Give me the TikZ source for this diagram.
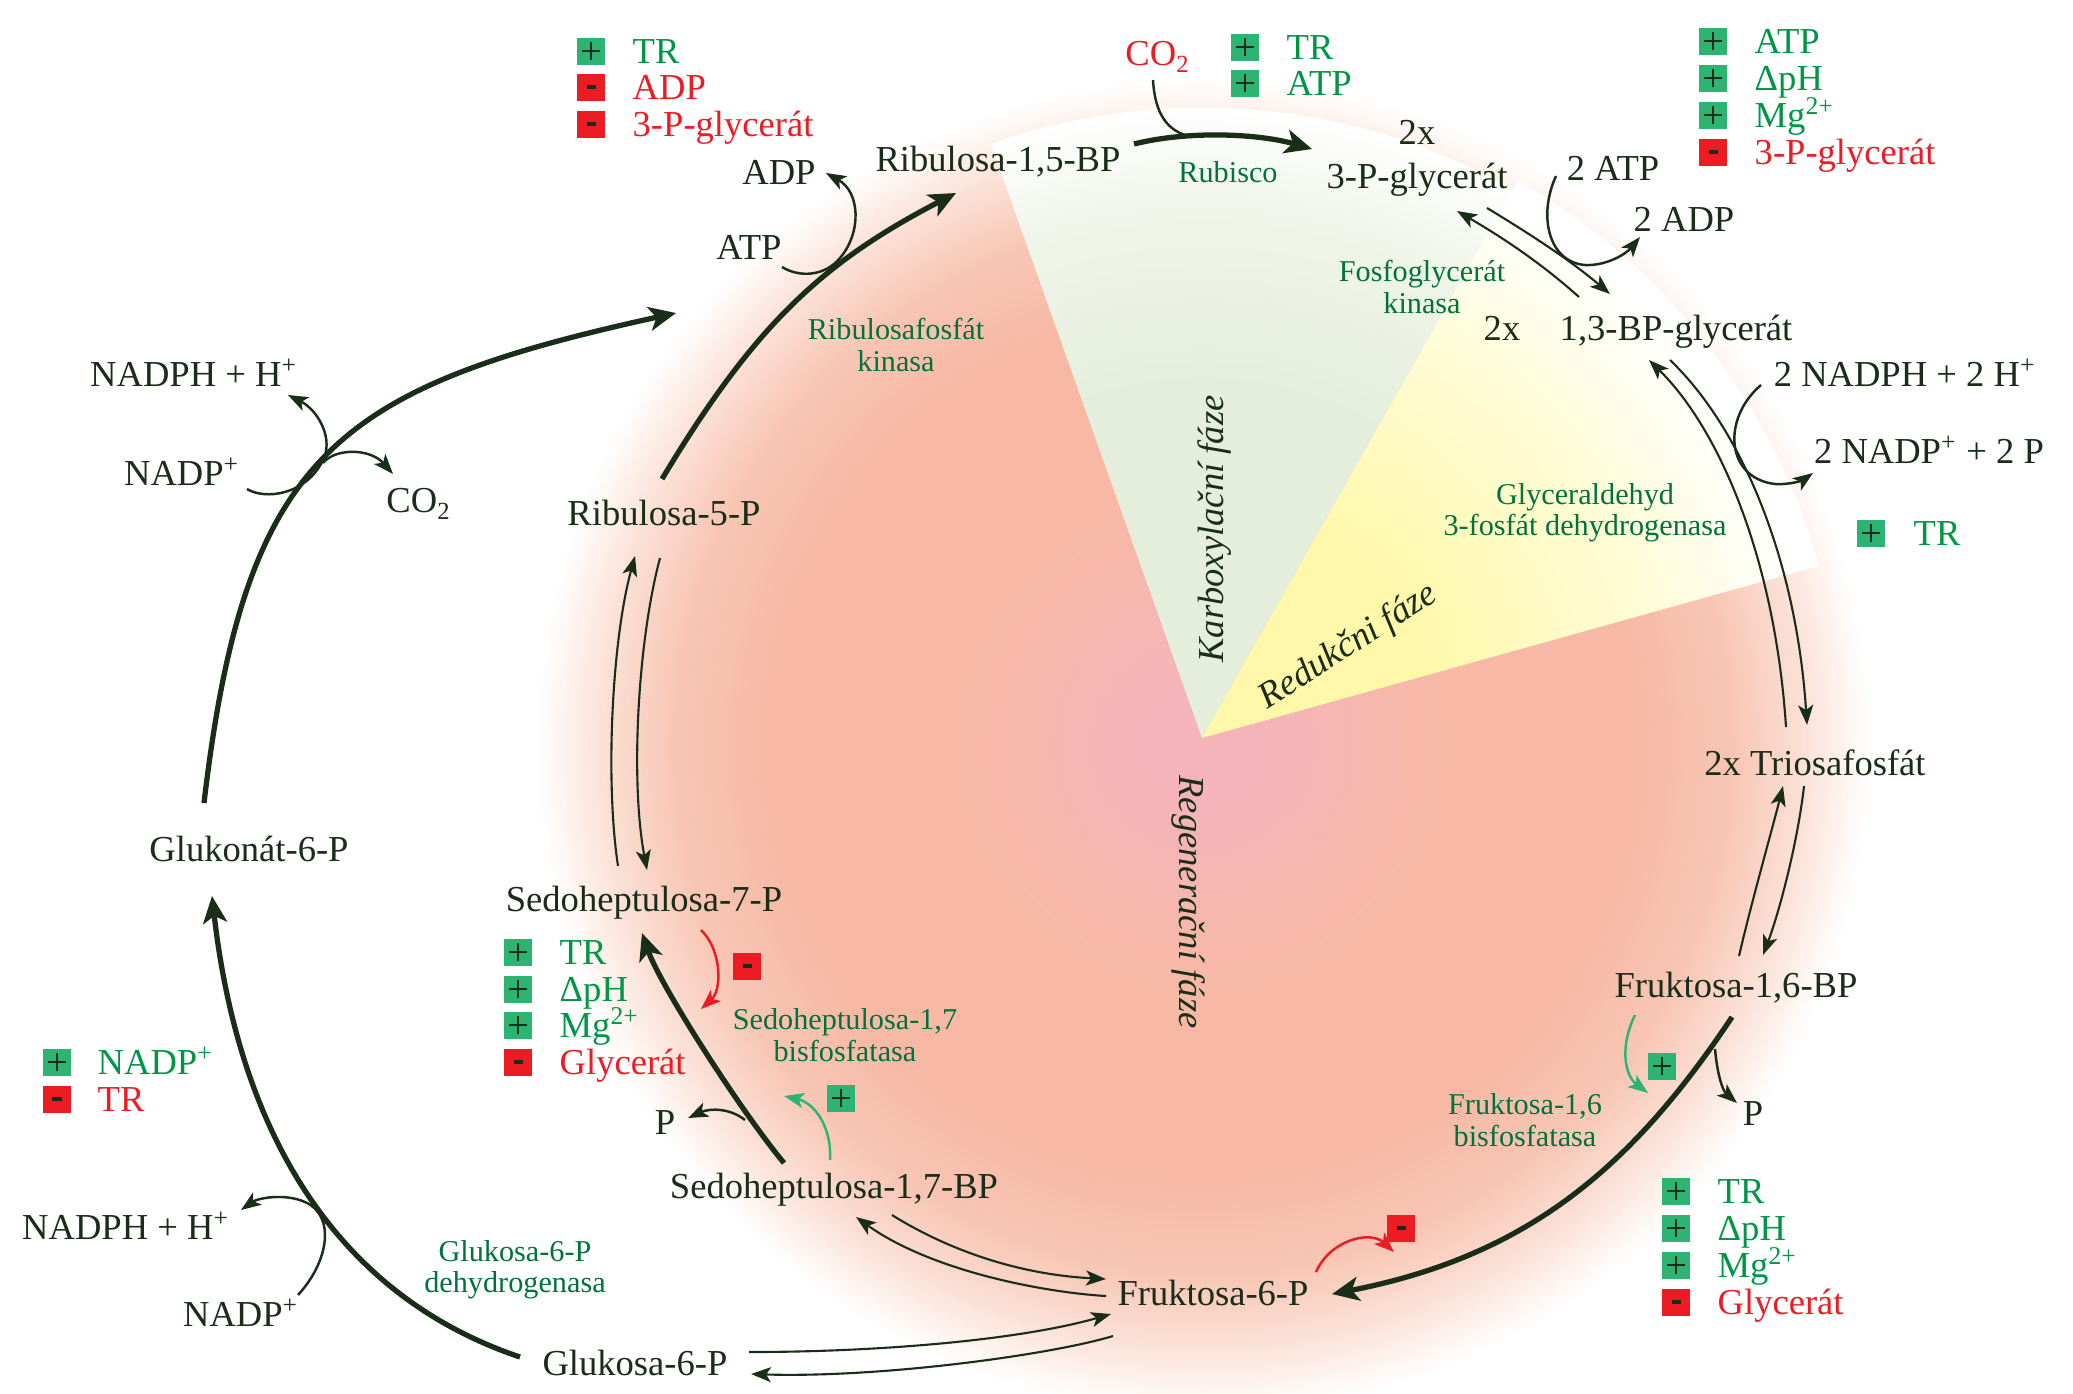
\documentclass[tikz,border=0pt]{standalone}
\usepackage{fontspec}
\setmainfont{Liberation Serif}
\usetikzlibrary{arrows.meta}
\definecolor{dark}{RGB}{25,45,25}
\definecolor{enzgreen}{RGB}{0,115,60}
\definecolor{reggreen}{RGB}{0,150,70}
\definecolor{boxgreen}{RGB}{45,180,115}
\definecolor{boxred}{RGB}{237,28,36}
\definecolor{cpink}{RGB}{245,180,186}
\definecolor{csalmon}{RGB}{247,185,166}
\definecolor{csalmonb}{RGB}{248,198,181}
\definecolor{clight}{RGB}{251,224,213}
\definecolor{cgreen}{RGB}{229,238,219}
\definecolor{cgreenb}{RGB}{240,245,234}
\definecolor{cyellow}{RGB}{255,248,170}
\definecolor{cyellowb}{RGB}{255,252,215}
\pgfdeclareradialshading{discshade}{\pgfpoint{0bp}{0bp}}{color(0bp)=(cpink); color(2bp)=(cpink); color(9bp)=(csalmon); color(16bp)=(csalmon); color(19.5bp)=(csalmonb); color(22bp)=(clight); color(24.5bp)=(white); color(50bp)=(white)}
\pgfdeclareradialshading{greenshade}{\pgfpoint{0bp}{0bp}}{color(0bp)=(cgreen); color(14bp)=(cgreen); color(21bp)=(cgreenb); color(25bp)=(white); color(50bp)=(white)}
\pgfdeclareradialshading{yellowshade}{\pgfpoint{0bp}{0bp}}{color(0bp)=(cyellow); color(9bp)=(cyellow); color(18bp)=(cyellowb); color(24bp)=(white); color(50bp)=(white)}
\newcommand\metfont{\fontsize{10.4}{12.5}\selectfont}
\newcommand\enzfont{\fontsize{8.6}{8.9}\selectfont}
\tikzset{
  met/.style={font=\metfont, text=dark, inner sep=0pt, text height=6.9pt, text depth=0pt},
  enz/.style={font=\enzfont, text=enzgreen, inner sep=0pt, align=center},
  regt/.style={font=\metfont, inner sep=0pt, anchor=west, text height=6.9pt, text depth=0pt},
  phase/.style={font=\metfont\itshape, text=dark, inner sep=0pt, text height=6.9pt, text depth=0pt},
  pbox/.style={fill=boxgreen, minimum width=0.28cm, minimum height=0.27cm, inner sep=0pt,
    path picture={\draw[dark, line width=0.45pt]
      ([xshift=-0.09cm]path picture bounding box.center) -- ([xshift=0.09cm]path picture bounding box.center)
      ([yshift=-0.09cm]path picture bounding box.center) -- ([yshift=0.09cm]path picture bounding box.center);}},
  mbox/.style={fill=boxred, minimum width=0.28cm, minimum height=0.27cm, inner sep=0pt,
    path picture={\draw[dark, line width=1.1pt]
      ([xshift=-0.045cm]path picture bounding box.center) -- ([xshift=0.045cm]path picture bounding box.center);}},
  mainarr/.style={draw=dark, line width=1.5pt, -{Stealth[length=2.7mm,width=2.4mm,inset=0.7mm]}},
  dblarr/.style={draw=dark, line width=0.6pt, -{Stealth[length=2mm,width=1.5mm,inset=0.5mm]}},
  sidearr/.style={draw=dark, line width=0.7pt, -{Stealth[length=2mm,width=1.5mm,inset=0.5mm]}},
  sideline/.style={draw=dark, line width=0.7pt},
  actarr/.style={draw=boxgreen, line width=0.7pt, -{Stealth[length=2mm,width=1.5mm,inset=0.5mm]}},
  inharr/.style={draw=boxred, line width=0.7pt, -{Stealth[length=2mm,width=1.5mm,inset=0.5mm]}}
}
\newcommand\subtwo{\raisebox{-0.45ex}{\fontsize{7}{8}\selectfont 2}}
\begin{document}
\begin{tikzpicture}[x=0.01cm,y=-0.01cm]
\useasboundingbox (0,0) rectangle (2073,1393);
\fill[white] (0,0) rectangle (2073,1393);
% background disc and phase wedges
\shade[shading=discshade] (1203,745) circle (6.8cm);
\begin{scope}
  \clip (1202,738) -- (934,-16) -- (1596,42) -- cycle;
  \shade[shading=greenshade] (1202,738) circle (6.3cm);
\end{scope}
\begin{scope}
  \clip (1202,738) -- (1596,42) -- (1972,523) -- cycle;
  \shade[shading=yellowshade] (1202,738) circle (6.4cm);
\end{scope}

% phase labels
\node[phase, rotate=90] (karb) at (1211,529) {Karboxylační fáze};
\node[phase, rotate=32.5] (reduk) at (1347,644) {Redukčni fáze};
\node[phase, rotate=-90] (regen) at (1192,902) {Regenerační fáze};

% metabolites
\node[met] (rub15) at (998,159) {Ribulosa-1,5-BP};
\node[met] (pgx) at (1417,132) {2x};
\node[met] (pg) at (1417,176) {3-P-glycerát};
\node[met] (bpgx) at (1502,328) {2x};
\node[met] (bpg) at (1676,328) {1,3-BP-glycerát};
\node[met] (tri) at (1815,763) {2x Triosafosfát};
\node[met] (fbp) at (1736,985) {Fruktosa-1,6-BP};
\node[met] (f6p) at (1213,1293) {Fruktosa-6-P};
\node[met] (g6p) at (635,1363) {Glukosa-6-P};
\node[met] (s17bp) at (834,1186) {Sedoheptulosa-1,7-BP};
\node[met] (s7p) at (644,899) {Sedoheptulosa-7-P};
\node[met] (ru5p) at (664,513) {Ribulosa-5-P};
\node[met] (gl6p) at (249,849) {Glukonát-6-P};

% cofactors
\node[met] (adp) at (779,172) {ADP};
\node[met] (atp) at (749,247) {ATP};
\node[met] (nadph1) at (194,374) {NADPH + H\textsuperscript{+}};
\node[met] (nadp1) at (182,473) {NADP\textsuperscript{+}};
\node[met] (co2a) at (418,500) {CO\subtwo};
\node[met, text=boxred] (co2r) at (1157,53) {CO\subtwo};
\node[met] (atp2) at (1613,168) {2 ATP};
\node[met] (adp2) at (1684,219) {2 ADP};
\node[met] (nadph2) at (1905,374) {2 NADPH + 2 H\textsuperscript{+}};
\node[met] (nadp2) at (1929,451) {2 NADP\textsuperscript{+} + 2 P};
\node[met] (pa) at (1753,1113) {P};
\node[met] (pb) at (665,1122) {P};
\node[met] (nadph3) at (126,1227) {NADPH + H\textsuperscript{+}};
\node[met] (nadp3) at (241,1314) {NADP\textsuperscript{+}};

% enzymes
\node[enz] (rubisco) at (1228,172) {Rubisco};
\node[enz] (pgk) at (1422,287) {Fosfoglycerát\\kinasa};
\node[enz] (prk) at (896,345) {Ribulosafosfát\\kinasa};
\node[enz] (gapdh) at (1585,513) {Glyceraldehyd\\3-fosfát dehydrogenasa};
\node[enz] (sbpase) at (845,1035) {Sedoheptulosa-1,7\\bisfosfatasa};
\node[enz] (fbpase) at (1525,1120) {Fruktosa-1,6\\bisfosfatasa};
\node[enz] (g6pdh) at (515,1270) {Glukosa-6-P\\dehydrogenasa};

% regulators A
\node[pbox] (ra1) at (591,51) {};
\node[mbox] (ra2) at (591,87) {};
\node[mbox] (ra3) at (591,124) {};
\node[regt, text=reggreen] (ta1) at (632,51) {TR};
\node[regt, text=boxred] (ta2) at (632,87) {ADP};
\node[regt, text=boxred] (ta3) at (632,124) {3-P-glycerát};
% regulators B
\node[pbox] (rb1) at (1245,47) {};
\node[pbox] (rb2) at (1245,83) {};
\node[regt, text=reggreen] (tb1) at (1286,47) {TR};
\node[regt, text=reggreen] (tb2) at (1286,83) {ATP};
% regulators C
\node[pbox] (rc1) at (1713,41) {};
\node[pbox] (rc2) at (1713,78) {};
\node[pbox] (rc3) at (1713,115) {};
\node[mbox] (rc4) at (1713,152) {};
\node[regt, text=reggreen] (tc1) at (1754,41) {ATP};
\node[regt, text=reggreen] (tc2) at (1754,78) {ΔpH};
\node[regt, text=reggreen] (tc3) at (1754,115) {Mg\textsuperscript{2+}};
\node[regt, text=boxred] (tc4) at (1754,152) {3-P-glycerát};
% regulators D
\node[pbox] (rd1) at (1871,533) {};
\node[regt, text=reggreen] (td1) at (1913,533) {TR};
% regulators E
\node[pbox] (re1) at (518,952) {};
\node[pbox] (re2) at (518,989) {};
\node[pbox] (re3) at (518,1025) {};
\node[mbox] (re4) at (518,1062) {};
\node[regt, text=reggreen] (te1) at (559,952) {TR};
\node[regt, text=reggreen] (te2) at (559,989) {ΔpH};
\node[regt, text=reggreen] (te3) at (559,1025) {Mg\textsuperscript{2+}};
\node[regt, text=boxred] (te4) at (559,1062) {Glycerát};
% regulators F
\node[pbox] (rf1) at (1676,1191) {};
\node[pbox] (rf2) at (1676,1228) {};
\node[pbox] (rf3) at (1676,1265) {};
\node[mbox] (rf4) at (1676,1302) {};
\node[regt, text=reggreen] (tf1) at (1717,1191) {TR};
\node[regt, text=reggreen] (tf2) at (1717,1228) {ΔpH};
\node[regt, text=reggreen] (tf3) at (1717,1265) {Mg\textsuperscript{2+}};
\node[regt, text=boxred] (tf4) at (1717,1302) {Glycerát};
% regulators G
\node[pbox] (rg1) at (57,1062) {};
\node[mbox] (rg2) at (57,1099) {};
\node[regt, text=reggreen] (tg1) at (97,1062) {NADP\textsuperscript{+}};
\node[regt, text=boxred] (tg2) at (97,1099) {TR};
% single effectors
\node[mbox] (inhs7) at (747,966) {};
\node[pbox] (acts17) at (841,1098) {};
\node[pbox] (actfbp) at (1662,1066) {};
\node[mbox] (inhf6) at (1401,1228) {};

% ---- connector end points ----
\coordinate (t1s) at (1134,144);   \coordinate (t1e) at (1312,149);
\coordinate (co2s) at (1153,80);   \coordinate (co2j) at (1192,137);
\coordinate (t2s) at (662,479);    \coordinate (t2e) at (956,193);
\coordinate (atps) at (782,267);   \coordinate (adpe) at (826,173);
\coordinate (t3s) at (204,803);    \coordinate (t3e) at (676,313);
\coordinate (nadp1s) at (247,489); \coordinate (nadph1e) at (288,395);
\coordinate (co2as) at (323,463);  \coordinate (co2ae) at (393,474);
\coordinate (t4s) at (520,1357);   \coordinate (t4e) at (212,896);
\coordinate (nadp3s) at (298,1295);\coordinate (nadph3e) at (241,1210);
\coordinate (t5s) at (1732,1017);  \coordinate (t5e) at (1332,1294);
\coordinate (pas) at (1715,1049);  \coordinate (pae) at (1737,1103);
\coordinate (afs) at (1635,1015);  \coordinate (afe) at (1648,1093);
\coordinate (ifs) at (1316,1272);  \coordinate (ife) at (1394,1252);
\coordinate (t6s) at (784,1163);   \coordinate (t6e) at (642,933);
\coordinate (pbs) at (745,1120);   \coordinate (pbe) at (688,1118);
\coordinate (ass) at (830,1160);   \coordinate (ase) at (784,1096);
\coordinate (iss) at (701,930);    \coordinate (ise) at (701,1009);
\coordinate (a1s) at (1579,297);   \coordinate (a1e) at (1457,211);
\coordinate (a2s) at (1487,208);   \coordinate (a2e) at (1610,294);
\coordinate (atp2s) at (1556,176); \coordinate (adp2e) at (1640,237);
\coordinate (b1s) at (1786,727);   \coordinate (b1e) at (1649,360);
\coordinate (b2s) at (1670,360);   \coordinate (b2e) at (1807,725);
\coordinate (nadph2s) at (1761,385); \coordinate (nadp2e) at (1813,473);
\coordinate (c1s) at (1739,956);   \coordinate (c1e) at (1783,786);
\coordinate (c2s) at (1804,786);   \coordinate (c2e) at (1763,955);
\coordinate (d1s) at (618,866);    \coordinate (d1e) at (635,556);
\coordinate (d2s) at (660,558);    \coordinate (d2e) at (647,870);
\coordinate (e1s) at (892,1215);   \coordinate (e1e) at (1106,1279);
\coordinate (e2s) at (1106,1296);  \coordinate (e2e) at (856,1217);
\coordinate (f1s) at (749,1352);   \coordinate (f1e) at (1111,1314);
\coordinate (f2s) at (1113,1336);  \coordinate (f2e) at (751,1374);

% ---- thick reaction arrows ----
\draw[mainarr] (t1s) .. controls (1190,130) and (1260,134) .. (t1e);
\draw[mainarr] (t2s) .. controls (755,324) and (823,262) .. (t2e);
\draw[mainarr] (t3s) .. controls (245,455) and (334,388) .. (t3e);
\draw[mainarr] (t4s) .. controls (330,1293) and (238,1124) .. (t4e);
\draw[mainarr] (t5s) .. controls (1632,1167) and (1528,1256) .. (t5e);
\draw[mainarr] (t6s) .. controls (740,1110) and (660,985) .. (t6e);

% ---- side reactions ----
\draw[sideline] (co2s) .. controls (1155,115) and (1168,132) .. (co2j);
\draw[sidearr] (atps) .. controls (800,278) and (825,276) .. (840,258) .. controls (862,232) and (860,192) .. (adpe);
\draw[sidearr] (nadp1s) .. controls (265,500) and (305,495) .. (322,462) .. controls (335,440) and (318,410) .. (nadph1e);
\draw[sidearr] (co2as) .. controls (335,448) and (370,448) .. (co2ae);
\draw[sidearr] (nadp3s) .. controls (330,1260) and (335,1215) .. (305,1202) .. controls (285,1193) and (258,1198) .. (nadph3e);
\draw[sidearr] (pas) .. controls (1717,1072) and (1722,1090) .. (pae);
\draw[sidearr] (pbs) .. controls (730,1108) and (710,1108) .. (pbe);
\draw[sidearr] (atp2s) .. controls (1538,215) and (1548,262) .. (1585,265) .. controls (1605,266) and (1625,255) .. (adp2e);
\draw[sidearr] (nadph2s) .. controls (1722,418) and (1725,478) .. (1775,484) .. controls (1790,485) and (1803,480) .. (nadp2e);

% ---- effector arrows ----
\draw[actarr] (afs) .. controls (1620,1045) and (1624,1075) .. (afe);
\draw[inharr] (ifs) .. controls (1330,1240) and (1370,1230) .. (ife);
\draw[actarr] (ass) .. controls (832,1128) and (815,1103) .. (ase);
\draw[inharr] (iss) .. controls (722,950) and (722,990) .. (ise);

% ---- reversible double arrows ----
\draw[dblarr] (a1s) .. controls (1540,262) and (1500,236) .. (a1e);
\draw[dblarr] (a2s) .. controls (1530,234) and (1570,260) .. (a2e);
\draw[dblarr] (b1s) .. controls (1775,560) and (1720,430) .. (b1e);
\draw[dblarr] (b2s) .. controls (1741,428) and (1796,558) .. (b2e);
\draw[dblarr] (c1s) .. controls (1752,900) and (1772,830) .. (c1e);
\draw[dblarr] (c2s) .. controls (1798,840) and (1780,910) .. (c2e);
\draw[dblarr] (d1s) .. controls (605,780) and (612,640) .. (d1e);
\draw[dblarr] (d2s) .. controls (638,640) and (630,780) .. (d2e);
\draw[dblarr] (e1s) .. controls (940,1245) and (1010,1274) .. (e1e);
\draw[dblarr] (e2s) .. controls (1040,1292) and (930,1270) .. (e2e);
\draw[dblarr] (f1s) .. controls (880,1352) and (1020,1340) .. (f1e);
\draw[dblarr] (f2s) .. controls (1050,1355) and (880,1378) .. (f2e);
\end{tikzpicture}
\end{document}
